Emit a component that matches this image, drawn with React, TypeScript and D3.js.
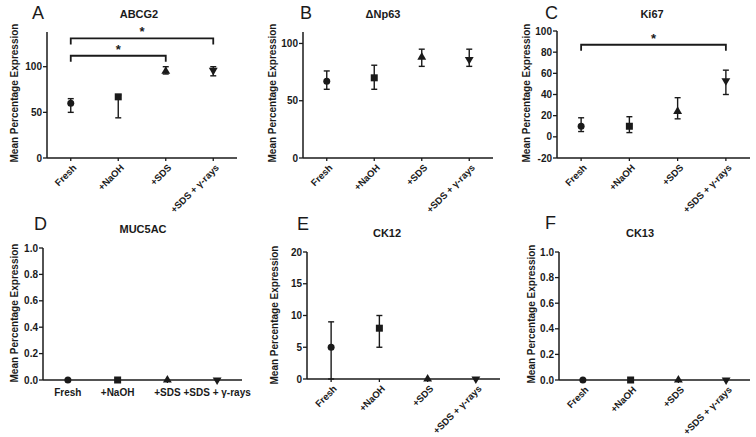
import React from "react";
import * as d3 from "d3";

const groups = ["Fresh", "+NaOH", "+SDS", "+SDS + γ-rays"];
const shapes = ["circle", "square", "triangle", "triangleDown"];

const abcg2Mean = [60, 67, 95, 96];
const abcg2Low = [50, 44, 92, 90];
const abcg2High = [65, 69, 100, 100];
const abcg2Sig = [[0, 3, 131], [0, 2, 112]];

const np63Mean = [67, 70, 88, 86];
const np63Low = [60, 60, 80, 80];
const np63High = [76, 81, 95, 95];

const ki67Mean = [10, 10, 24, 53];
const ki67Low = [5, 4, 17, 40];
const ki67High = [18, 19, 37, 63];
const ki67Sig = [[0, 3, 87]];

const muc5acMean = [0, 0, 0, 0];
const ck12Mean = [5, 8, 0, 0];
const ck12Low = [0, 5, 0, 0];
const ck12High = [9, 10, 0, 0];
const ck13Mean = [0, 0, 0, 0];

const abcg2Ticks = [0, 50, 100];
const np63Ticks = [0, 50, 100];
const ki67Ticks = [-20, 0, 20, 40, 60, 80, 100];
const fracTicks = [0, 0.2, 0.4, 0.6, 0.8, 1.0];
const ck12Ticks = [0, 5, 10, 15, 20];

type Panel = {
  letter: string; title: string; mean: number[]; low?: number[]; high?: number[];
  sig?: number[][]; ticks: number[]; domain: [number, number]; fmt: (v: number) => string;
  x0: number; x1: number; yTop: number; yBot: number; titleX: number; titleY: number;
  letterX: number; letterY: number; labelX: number; labelY: number; flat?: boolean;
};

const intFmt = (v: number) => String(v);
const decFmt = d3.format(".1f");

const panels: Panel[] = [
  { letter: "A", title: "ABCG2", mean: abcg2Mean, low: abcg2Low, high: abcg2High, sig: abcg2Sig,
    ticks: abcg2Ticks, domain: [0, 138], fmt: intFmt, x0: 47, x1: 237, yTop: 32, yBot: 158,
    titleX: 139, titleY: 18, letterX: 32, letterY: 19, labelX: 15, labelY: 93 },
  { letter: "B", title: "ΔNp63", mean: np63Mean, low: np63Low, high: np63High,
    ticks: np63Ticks, domain: [0, 110], fmt: intFmt, x0: 303, x1: 493, yTop: 32, yBot: 158,
    titleX: 383, titleY: 18, letterX: 300, letterY: 19, labelX: 273, labelY: 93 },
  { letter: "C", title: "Ki67", mean: ki67Mean, low: ki67Low, high: ki67High, sig: ki67Sig,
    ticks: ki67Ticks, domain: [-20, 100], fmt: intFmt, x0: 557, x1: 750, yTop: 31, yBot: 158,
    titleX: 652, titleY: 18, letterX: 545, letterY: 19, labelX: 527, labelY: 93 },
  { letter: "D", title: "MUC5AC", mean: muc5acMean,
    ticks: fracTicks, domain: [0, 1], fmt: decFmt, x0: 43, x1: 242, yTop: 248, yBot: 380,
    titleX: 143, titleY: 233, letterX: 34, letterY: 230, labelX: 15, labelY: 313, flat: true },
  { letter: "E", title: "CK12", mean: ck12Mean, low: ck12Low, high: ck12High,
    ticks: ck12Ticks, domain: [0, 20], fmt: intFmt, x0: 307, x1: 500, yTop: 252, yBot: 379,
    titleX: 387, titleY: 237, letterX: 297, letterY: 230, labelX: 275, labelY: 315 },
  { letter: "F", title: "CK13", mean: ck13Mean,
    ticks: fracTicks, domain: [0, 1], fmt: decFmt, x0: 559, x1: 750, yTop: 252, yBot: 380,
    titleX: 640, titleY: 237, letterX: 545, letterY: 229, labelX: 532, labelY: 314 },
];

const ink = "#1a1a1a";
const font = "Liberation Sans, Arial, sans-serif";

function Marker({ shape, x, y }: { shape: string; x: number; y: number }) {
  if (shape === "circle") return <circle cx={x} cy={y} r={3.5} fill={ink} />;
  if (shape === "square") return <rect x={x - 3.5} y={y - 3.5} width={7} height={7} fill={ink} />;
  const p = d3.symbol().type(d3.symbolTriangle).size(34)();
  return <path d={p || ""} transform={`translate(${x},${y})${shape === "triangleDown" ? " rotate(180)" : ""}`} fill={ink} />;
}

function PanelChart({ p }: { p: Panel }) {
  const x = d3.scalePoint<string>().domain(groups).range([p.x0, p.x1]).padding(0.5);
  const y = d3.scaleLinear().domain(p.domain).range([p.yBot, p.yTop]);
  const y0 = p.yBot;
  return (
    <g>
      <text x={p.letterX} y={p.letterY} fontSize={18} fontFamily={font} fill={ink}>{p.letter}</text>
      <text x={p.titleX} y={p.titleY} fontSize={11} fontWeight="bold" fontFamily={font} fill={ink} textAnchor="middle">{p.title}</text>
      <text transform={`translate(${p.labelX},${p.labelY}) rotate(-90)`}
        fontSize={10} fontWeight="bold" fontFamily={font} fill={ink} textAnchor="middle" dominantBaseline="middle">
        Mean Percentage Expression
      </text>
      <line x1={p.x0} x2={p.x0} y1={p.yTop} y2={y0} stroke={ink} strokeWidth={1.5} />
      <line x1={p.x0} x2={p.x1} y1={y0} y2={y0} stroke={ink} strokeWidth={1.5} />
      {p.ticks.map((t) => (
        <g key={t}>
          <line x1={p.x0 - 4} x2={p.x0} y1={y(t)} y2={y(t)} stroke={ink} strokeWidth={1.3} />
          <text x={p.x0 - 5} y={y(t)} dy="0.35em" textAnchor="end" fontSize={10} fontWeight="bold" fontFamily={font} fill={ink}>{p.fmt(t)}</text>
        </g>
      ))}
      {groups.map((g) => {
        const cx = x(g)!;
        return (
          <g key={g}>
            <line x1={cx} x2={cx} y1={y0} y2={y0 + 3} stroke={ink} strokeWidth={1.3} />
            {p.flat ? (
              <text x={cx} y={y0 + 16} textAnchor="middle" fontSize={10} fontWeight="bold" fontFamily={font} fill={ink}>{g}</text>
            ) : (
              <text transform={`translate(${cx + 4},${y0 + 8}) rotate(-45)`} dy="0.35em" textAnchor="end" fontSize={9.5} fontWeight="bold" fontFamily={font} fill={ink}>{g}</text>
            )}
          </g>
        );
      })}
      {p.low && p.high && groups.map((g, i) => {
        const cx = x(g)!;
        if (p.low![i] === p.high![i]) return null;
        return (
          <g key={"e" + g} stroke={ink} strokeWidth={1.4}>
            <line x1={cx} x2={cx} y1={y(p.low![i])} y2={y(p.high![i])} />
            <line x1={cx - 3} x2={cx + 3} y1={y(p.low![i])} y2={y(p.low![i])} />
            <line x1={cx - 3} x2={cx + 3} y1={y(p.high![i])} y2={y(p.high![i])} />
          </g>
        );
      })}
      {groups.map((g, i) => (
        <Marker key={"m" + g} shape={shapes[i]} x={x(g)!} y={y(p.mean[i])} />
      ))}
      {p.sig && p.sig.map(([a, b, v], k) => {
        const xa = x(groups[a])!;
        const xb = x(groups[b])!;
        const by = y(v);
        return (
          <g key={"s" + k}>
            <path d={`M${xa},${by + 6}V${by}H${xb}V${by + 6}`} fill="none" stroke={ink} strokeWidth={1.8} />
            <text x={(xa + xb) / 2} y={by - 2} textAnchor="middle" fontSize={13} fontWeight="bold" fontFamily={font} fill={ink}>*</text>
          </g>
        );
      })}
    </g>
  );
}

export default function App() {
  return (
    <svg width={756} height={437} style={{ position: "absolute", left: 0, top: 0, background: "#fff" }}>
      {panels.map((p) => <PanelChart key={p.letter} p={p} />)}
    </svg>
  );
}
